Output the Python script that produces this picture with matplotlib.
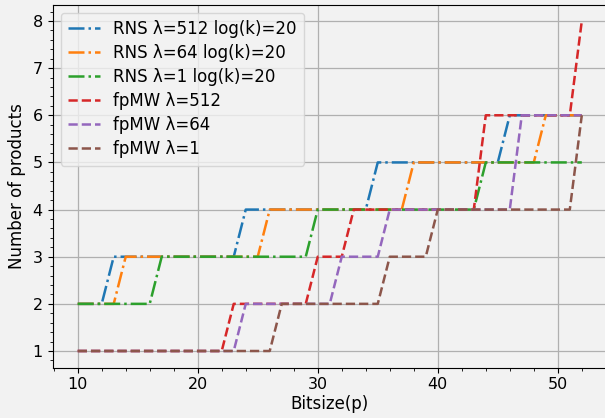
import matplotlib
matplotlib.use("Agg")
import matplotlib.pyplot as plt
from matplotlib.ticker import MultipleLocator, AutoMinorLocator

bitsize = list(range(10, 53))

# number of products for each bitsize, one list per configuration
rns_512 = [2] * 3 + [3] * 11 + [4] * 11 + [5] * 11 + [6] * 7
rns_64 = [2] * 4 + [3] * 12 + [4] * 12 + [5] * 11 + [6] * 4
rns_1 = [2] * 7 + [3] * 13 + [4] * 14 + [5] * 9
fpmw_512 = [1] * 13 + [2] * 7 + [3] * 3 + [4] * 11 + [6] * 8 + [8] * 1
fpmw_64 = [1] * 14 + [2] * 8 + [3] * 4 + [4] * 11 + [6] * 6
fpmw_1 = [1] * 17 + [2] * 9 + [3] * 4 + [4] * 12 + [6] * 1

series = [
    ("RNS λ=512 log(k)=20", rns_512, "-.", "#1f77b4"),
    ("RNS λ=64 log(k)=20", rns_64, "-.", "#ff7f0e"),
    ("RNS λ=1 log(k)=20", rns_1, "-.", "#2ca02c"),
    ("fpMW λ=512", fpmw_512, "--", "#d62728"),
    ("fpMW λ=64", fpmw_64, "--", "#9467bd"),
    ("fpMW λ=1", fpmw_1, "--", "#8c564b"),
]

bg = "#f2f2f2"
plt.rcParams.update({
    "font.size": 12,
    "xtick.labelsize": 11.5,
    "ytick.labelsize": 11.5,
    "axes.facecolor": bg,
    "figure.facecolor": bg,
    "xtick.direction": "out",
    "ytick.direction": "out",
})

fig = plt.figure(figsize=(6.05, 4.18), dpi=100)
ax = fig.add_axes([52.5 / 605, (418 - 367.5) / 418, (607 - 52.5) / 605, (367.5 - 4.5) / 418])

for label, values, style, color in series:
    ax.plot(bitsize, values, linestyle=style, color=color, linewidth=1.8, label=label)

ax.xaxis.set_major_locator(MultipleLocator(10))
ax.xaxis.set_minor_locator(AutoMinorLocator(5))
ax.yaxis.set_major_locator(MultipleLocator(1))
ax.yaxis.set_minor_locator(AutoMinorLocator(5))
ax.grid(True, which="major", color="#b0b0b0", linewidth=0.9)
ax.set_axisbelow(True)

ax.set_xlabel("Bitsize(p)", labelpad=2)
ax.set_ylabel("Number of products", labelpad=5)
ax.legend(loc="upper left", framealpha=0.8, edgecolor="#d0d0d0",
          handlelength=1.9, borderpad=0.45, labelspacing=0.36)

fig.savefig("out.png", dpi=100, facecolor=bg)
